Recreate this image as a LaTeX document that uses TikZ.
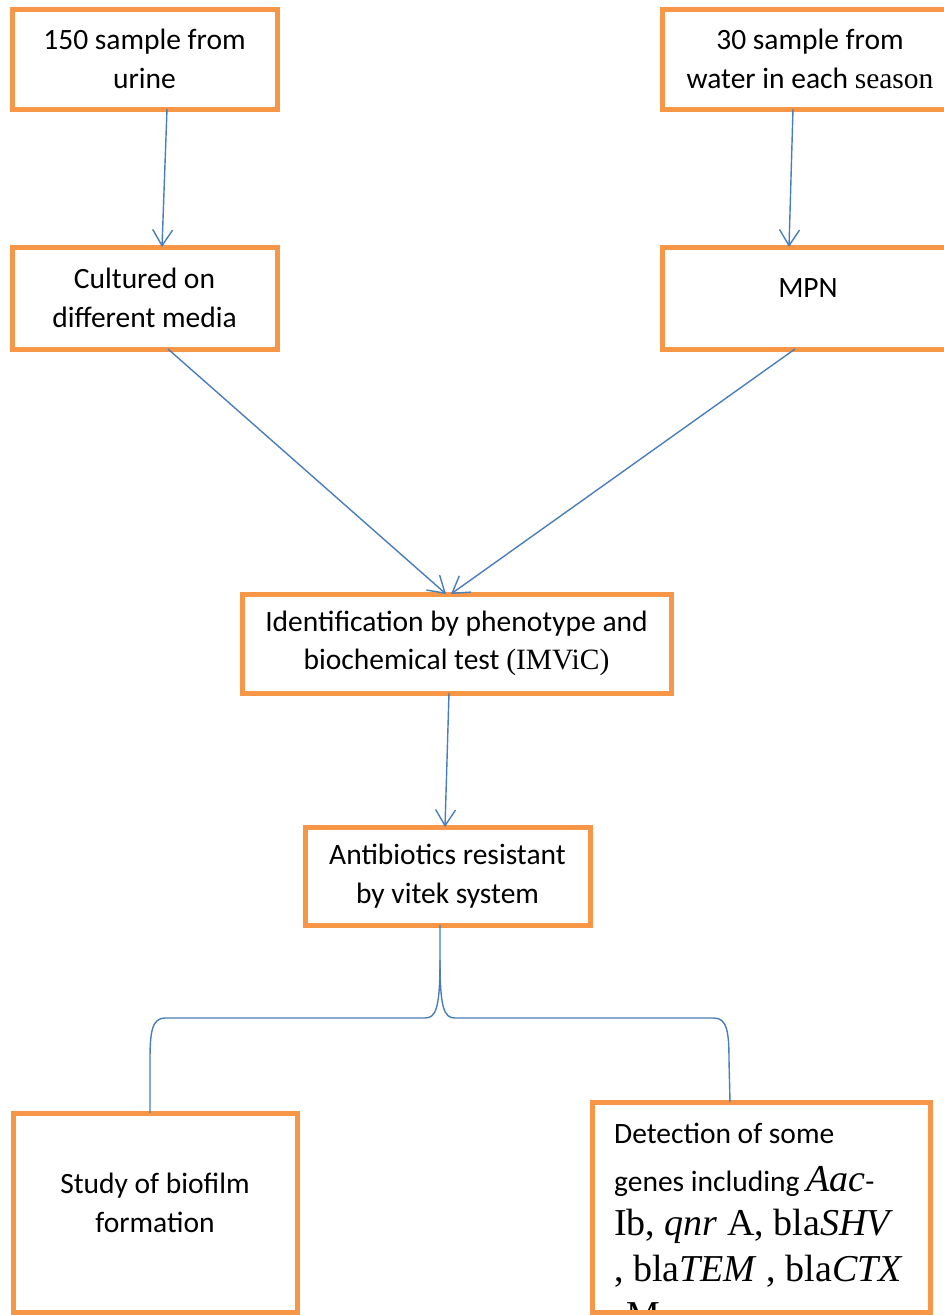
\documentclass[tikz,border=0pt]{standalone}
\usepackage{fontspec}
\setmainfont{Carlito}
\newfontfamily\tnr{Liberation Serif}
\usetikzlibrary{arrows.meta,calc}
\definecolor{boxorange}{HTML}{F79646}
\definecolor{lineblue}{HTML}{4A7EBB}
\begin{document}
\begin{tikzpicture}[x=1pt,y=-1pt,
  box/.style={draw=boxorange,line width=5pt,outer sep=0pt,inner sep=0pt,align=center,font=\fontsize{29.5}{38.5}\selectfont},
  txt/.style={inner sep=0pt,align=center,font=\fontsize{29.5}{38.5}\selectfont},
  gline/.style={inner sep=0pt,anchor=base west,font=\fontsize{29.5}{38.5}\selectfont},
  conn/.style={draw=lineblue,line width=1.4pt,-{Straight Barb[length=16pt,width=20pt,line width=1.4pt]}},
  brace/.style={draw=lineblue,line width=1.4pt}]
\useasboundingbox (0,0) rectangle (944,1315);
\clip (0,0) rectangle (944,1315);
\newcommand{\bigser}{\tnr\fontsize{38}{45}\selectfont}
% boxes
\node[box,minimum width=265pt,minimum height=100pt] (A) at (144.5,59) {150 sample from\\urine};
\node[box,minimum width=296pt,minimum height=100pt] (B) at (810,59) {30 sample from\\water in each {\tnr season}};
\node[box,minimum width=265pt,minimum height=102pt] (C) at (144.5,298) {Cultured on\\different media};
\node[box,minimum width=296pt,minimum height=102pt] (D) at (810,298) {};
\node[txt] (Dt) at (808,288) {MPN};
\node[box,minimum width=429pt,minimum height=99pt] (E) at (456.5,643.5) {Identification by phenotype and\\biochemical test {\tnr (IMViC)}};
\node[box,minimum width=285pt,minimum height=98pt] (F) at (447.5,876) {Antibiotics resistant\\by vitek system};
\node[box,minimum width=284pt,minimum height=199pt] (G) at (155,1212.5) {};
\node[txt] (Gt) at (155,1203) {Study of biofilm\\formation};
\node[box,minimum width=338pt,minimum height=210pt] (H) at (761,1207) {};
\begin{scope}
\clip (594.5,1104.5) rectangle (927.5,1309.5);
\node[gline] (H1) at (614,1143) {Detection of some};
\node[gline] (H2) at (614,1191) {genes including {\bigser\itshape Aac}-};
\node[gline] (H3) at (614,1235) {\bigser Ib, \textit{qnr} A, bla\textit{SHV}};
\node[gline] (H4) at (614,1281) {\bigser , bla\textit{TEM} , bla\textit{CTX}};
\node[gline] (H5) at (614,1327) {\bigser -M};
\end{scope}
% arrows
\draw[conn] ([xshift=22.5pt]A.south) -- ([xshift=17.5pt]C.north);
\draw[conn] ([xshift=-17pt]B.south) -- ([xshift=-21pt]D.north);
\draw[conn] ([xshift=23.5pt]C.south) -- ([xshift=-10.5pt]E.north);
\draw[conn] ([xshift=-15pt]D.south) -- ([xshift=-5.5pt]E.north);
\draw[conn] ([xshift=-7.5pt]E.south) -- ([xshift=-2.5pt]F.north);
% brace
\coordinate (Fb) at ([xshift=-7.5pt]F.south);
\coordinate (Gt0) at ([xshift=-5pt]G.north);
\coordinate (Ht0) at ([xshift=-31pt]H.north);
\draw[brace] (Fb) -- ++(0,35) .. controls ++(0,48) and (436,1018) .. (425,1018)
  -- (165,1018) .. controls (152,1018) and (150,1032) .. (150,1060) -- (Gt0);
\draw[brace] ($(Fb)+(0,35)$) .. controls ++(0,48) and (444,1018) .. (455,1018)
  -- (714,1018) .. controls (727,1018) and (729,1032) .. (729,1060) -- (Ht0);
\end{tikzpicture}
\end{document}
